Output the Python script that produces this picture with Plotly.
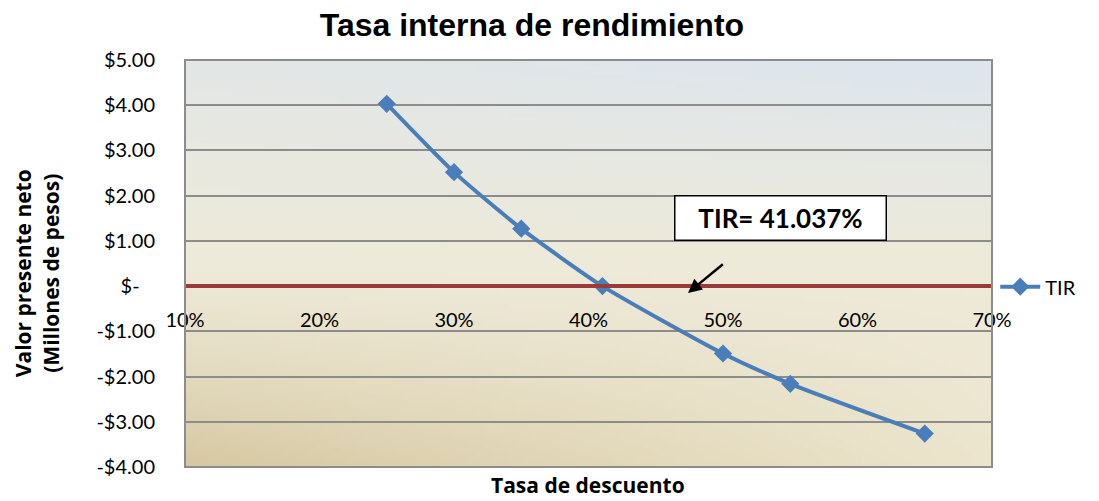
import base64
import struct
import zlib

import plotly.graph_objects as go

# Discount rate (%) and net present value (millions of pesos)
tasas = [25, 30, 35, 41.037, 50, 55, 65]
vpn = [4.03, 2.52, 1.27, 0.0, -1.49, -2.16, -3.26]

y_ticks = [5, 4, 3, 2, 1, 0, -1, -2, -3, -4]
y_labels = ["$5.00", "$4.00", "$3.00", "$2.00", "$1.00", "$-\u00a0\u00a0\u00a0",
            "-$1.00", "-$2.00", "-$3.00", "-$4.00"]
x_ticks = [10, 20, 30, 40, 50, 60, 70]
x_labels = ["10%", "20%", "30%", "40%", "50%", "60%", "70%"]

tir = 41.037
tir_text = "TIR= 41.037%"


def lerp(a, b, t):
    return tuple(a[i] + (b[i] - a[i]) * t for i in range(3))


def gradient_png(w, h):
    """Plot-area fill: bluish grey at the top fading to tan at the bottom."""
    tl, tr = (226, 230, 229), (221, 229, 238)
    mid = (238, 234, 217)
    bl, br = (214, 200, 162), (236, 229, 205)
    rows = []
    for j in range(h):
        v = j / (h - 1)
        row = bytearray([0])
        for i in range(w):
            u = i / (w - 1)
            top = lerp(tl, tr, u)
            bot = lerp(bl, br, u)
            if v < 0.5:
                c = lerp(top, mid, v / 0.5)
            else:
                c = lerp(mid, bot, ((v - 0.5) / 0.5) ** 1.2)
            row.extend(int(round(x)) for x in c)
        rows.append(bytes(row))
    raw = b"".join(rows)

    def chunk(tag, data):
        body = tag + data
        return struct.pack(">I", len(data)) + body + struct.pack(">I", zlib.crc32(body) & 0xFFFFFFFF)

    png = b"\x89PNG\r\n\x1a\n"
    png += chunk(b"IHDR", struct.pack(">IIBBBBB", w, h, 8, 2, 0, 0, 0))
    png += chunk(b"IDAT", zlib.compress(raw, 9))
    png += chunk(b"IEND", b"")
    return "data:image/png;base64," + base64.b64encode(png).decode()


TEXT_FONT = "Lato"
BOLD_FONT = "Open Sans"

fig = go.Figure()

fig.add_trace(go.Scatter(
    x=tasas, y=vpn, name="TIR", mode="lines+markers", showlegend=True,
    line=dict(color="#4A7EBB", width=4, shape="spline", smoothing=0.6),
    marker=dict(symbol="diamond", size=14, color="#4A7EBB"),
))

fig.add_layout_image(dict(
    source=gradient_png(96, 96), xref="x domain", yref="y domain",
    x=0, y=1, sizex=1, sizey=1, sizing="stretch", layer="below",
))

# Plot-area border
fig.add_shape(type="rect", xref="x domain", yref="y domain", x0=0, x1=1, y0=0, y1=1,
              line=dict(color="#8C8C8C", width=2), layer="above")

# Label box and arrow pointing to the crossing
fig.add_annotation(x=54.3, y=1.5, xref="x", yref="y", text="<b>" + tir_text + "</b>",
                   showarrow=False, bgcolor="white", bordercolor="black", borderwidth=1.5,
                   width=208, height=41, font=dict(family=TEXT_FONT, size=26, color="black"))
fig.add_annotation(x=47.4, y=-0.15, ax=50.1, ay=0.51, xref="x", yref="y", axref="x", ayref="y",
                   text="", showarrow=True, arrowhead=2, arrowsize=1.1, arrowwidth=2.5,
                   arrowcolor="black")

# Axis titles
fig.add_annotation(x=-0.183, y=0.477, xref="paper", yref="paper", xanchor="center", yanchor="middle",
                   text="<b>Valor presente neto<br>(Millones de pesos)</b>", textangle=-90,
                   showarrow=False, font=dict(family=BOLD_FONT, size=21, color="black"))
fig.add_annotation(x=0.4994, y=-0.0835, xref="paper", yref="paper", xanchor="center", yanchor="bottom",
                   text="<b>Tasa de descuento</b>", showarrow=False,
                   font=dict(family=BOLD_FONT, size=21, color="black"))

fig.update_layout(
    width=1099, height=501,
    margin=dict(l=185, r=107, t=60, b=34),
    paper_bgcolor="white", plot_bgcolor="rgba(0,0,0,0)",
    showlegend=True,
    title=dict(text="<b>Tasa interna de rendimiento</b>", x=0.484, y=0.950,
               xanchor="center", yanchor="middle",
               font=dict(family="Liberation Sans", size=32, color="black")),
    legend=dict(x=1.004, xanchor="left", y=0.443, yanchor="middle",
                font=dict(family=TEXT_FONT, size=20, color="black"),
                bgcolor="rgba(0,0,0,0)", itemwidth=40),
    xaxis=dict(range=[10, 70], tickvals=x_ticks, ticktext=x_labels,
               anchor="free", position=4 / 9, showgrid=False, zeroline=False,
               showline=True, linecolor="#9B3A36", linewidth=4,
               ticks="outside", ticklen=15, tickcolor="rgba(0,0,0,0)",
               tickfont=dict(family=TEXT_FONT, size=20, color="black")),
    yaxis=dict(range=[-4, 5], tickvals=y_ticks, ticktext=y_labels,
               showgrid=True, gridcolor="#8C8C8C", gridwidth=2, zeroline=False,
               ticks="outside", ticklen=25, tickcolor="rgba(0,0,0,0)",
               tickfont=dict(family=TEXT_FONT, size=20, color="black")),
)

fig.write_html("out.html")
